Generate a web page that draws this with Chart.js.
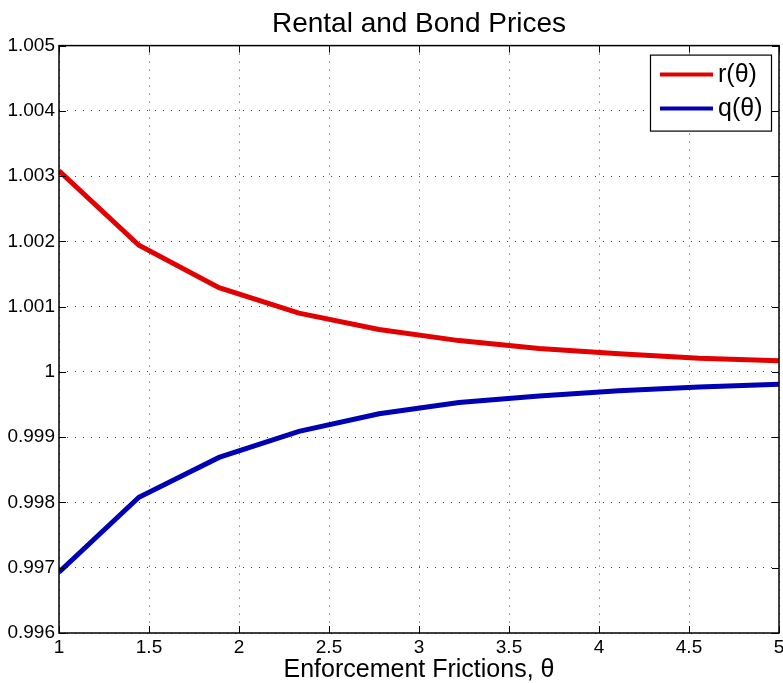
<!DOCTYPE html>
<html>
<head>
<meta charset="utf-8">
<script src="https://cdn.jsdelivr.net/npm/chart.js@4.4.1/dist/chart.umd.min.js"></script>
<style>
    html, body { margin: 0; padding: 0; background: #fff; }
    #wrap { width: 783px; height: 683px; }
</style>
</head>
<body>
<div id="wrap"><canvas id="priceChart"></canvas></div>
<script>
const thetas = [1, 1.444, 1.889, 2.333, 2.778, 3.222, 3.667, 4.111, 4.556, 5];
const rentalPrices = [1.00308, 1.00194, 1.00129, 1.00090, 1.00065, 1.00048, 1.00036, 1.00028, 1.00021, 1.00017];
const bondPrices = [0.99693, 0.99808, 0.99869, 0.99909, 0.99936, 0.99953, 0.99963, 0.99971, 0.99977, 0.99981];
const seriesLabels = ['r(θ)', 'q(θ)'];
const xTicks = [1, 1.5, 2, 2.5, 3, 3.5, 4, 4.5, 5];

const FONT = 'Arial, "Liberation Sans", Helvetica, sans-serif';

const toPoints = (ys) => thetas.map((x, i) => ({ x: x, y: ys[i] }));

// box round the axes, inward ticks and the legend (MATLAB look)
const matlabFrame = {
    id: 'matlabFrame',
    afterDraw(chart) {
        const { ctx, chartArea: a, scales } = chart;
        const len = 7;
        ctx.save();
        ctx.strokeStyle = '#000';
        ctx.lineWidth = 1;
        ctx.beginPath();
        xTicks.forEach((v) => {
            const px = Math.round(scales.x.getPixelForValue(v)) + 0.5;
            ctx.moveTo(px, a.bottom); ctx.lineTo(px, a.bottom - len);
            ctx.moveTo(px, a.top); ctx.lineTo(px, a.top + len);
        });
        scales.y.ticks.forEach((t) => {
            const py = Math.round(scales.y.getPixelForValue(t.value)) + 0.5;
            ctx.moveTo(a.left, py); ctx.lineTo(a.left + len, py);
            ctx.moveTo(a.right, py); ctx.lineTo(a.right - len, py);
        });
        ctx.stroke();

        ctx.lineWidth = 1.5;
        ctx.strokeRect(a.left, a.top, a.right - a.left, a.bottom - a.top);

        // legend box
        const bw = 121, bh = 76;
        const bx = a.right - 8 - bw, by = a.top + 9;
        ctx.fillStyle = '#fff';
        ctx.fillRect(bx, by, bw, bh);
        ctx.lineWidth = 1.2;
        ctx.strokeRect(bx + 0.5, by + 0.5, bw, bh);
        ctx.font = '25px ' + FONT;
        ctx.textBaseline = 'middle';
        chart.data.datasets.forEach((ds, i) => {
            const ly = by + 20 + i * 34;
            ctx.strokeStyle = ds.borderColor;
            ctx.lineWidth = 4;
            ctx.beginPath();
            ctx.moveTo(bx + 10, ly);
            ctx.lineTo(bx + 63, ly);
            ctx.stroke();
            ctx.fillStyle = '#000';
            ctx.fillText(ds.label, bx + 68, ly + 1);
        });
        ctx.restore();
    }
};

const config = {
    type: 'line',
    data: {
        datasets: [
            {
                label: seriesLabels[0],
                data: toPoints(rentalPrices),
                borderColor: '#e30000',
                borderWidth: 5,
                pointRadius: 0,
                tension: 0,
            },
            {
                label: seriesLabels[1],
                data: toPoints(bondPrices),
                borderColor: '#0000b4',
                borderWidth: 5,
                pointRadius: 0,
                tension: 0,
            },
        ],
    },
    options: {
        animation: false,
        responsive: true,
        maintainAspectRatio: false,
        layout: { padding: { top: 0, right: 4, left: 0, bottom: 0 } },
        plugins: {
            legend: { display: false },
            tooltip: { enabled: false },
            title: {
                display: true,
                fullSize: false,
                text: 'Rental and Bond Prices',
                color: '#000',
                font: { family: FONT, size: 28, weight: 'normal' },
                padding: { top: 7, bottom: 5 },
            },
        },
        scales: {
            x: {
                type: 'linear',
                min: 1,
                max: 5,
                afterBuildTicks: (scale) => {
                    scale.ticks = xTicks.map((v) => ({ value: v }));
                },
                afterFit: (scale) => {
                    scale.height = 50;
                    scale.paddingRight = 0;
                },
                grid: {
                    color: '#444',
                    lineWidth: 1,
                    drawTicks: false,
                },
                border: { display: false, dash: [1, 7] },
                ticks: {
                    color: '#000',
                    padding: 3,
                    maxRotation: 0,
                    font: { family: FONT, size: 19 },
                    callback: (v) => String(v),
                },
                title: {
                    display: true,
                    text: 'Enforcement Frictions, θ',
                    color: '#000',
                    font: { family: FONT, size: 25, lineHeight: 1.0 },
                    padding: { top: 0, bottom: 0 },
                },
            },
            y: {
                min: 0.996,
                max: 1.005,
                afterFit: (scale) => { scale.width = 59; },
                grid: {
                    color: '#444',
                    lineWidth: 1,
                    drawTicks: false,
                },
                border: { display: false, dash: [1, 7] },
                ticks: {
                    stepSize: 0.001,
                    color: '#000',
                    padding: 4,
                    font: { family: FONT, size: 19 },
                    callback: (v) => String(+v.toFixed(3)),
                },
            },
        },
    },
    plugins: [matlabFrame],
};

document.addEventListener('DOMContentLoaded', () => {
    const $priceChart = document.getElementById('priceChart');
    new Chart($priceChart, config);
});
</script>
</body>
</html>
